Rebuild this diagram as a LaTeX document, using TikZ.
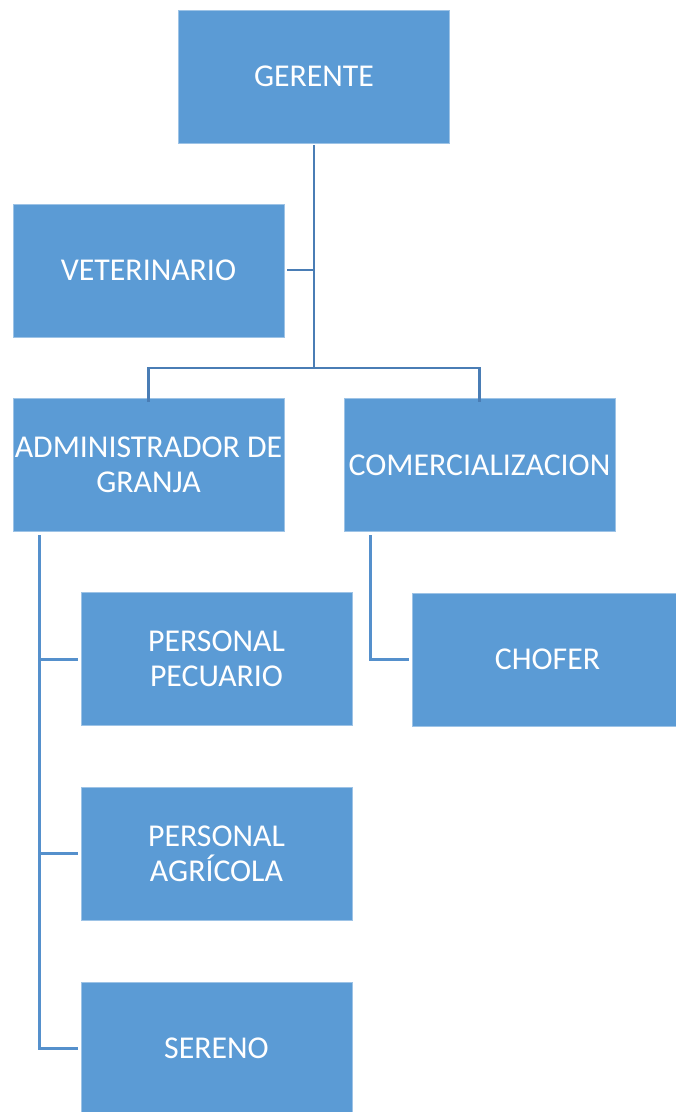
\documentclass[tikz,border=0pt]{standalone}
\usepackage{fontspec}
\setmainfont{Carlito}
\definecolor{boxblue}{HTML}{5B9BD5}
\definecolor{boxedge}{HTML}{9DC3E6}
\definecolor{topline}{HTML}{4A7DB5}
\definecolor{lowline}{HTML}{5590CC}
\tikzset{
  orgbox/.style={draw=boxedge, line width=0.8pt, fill=boxblue, text=white,
    minimum width=271pt, minimum height=133pt, inner sep=0pt, align=center,
    font=\fontsize{31.8}{35}\selectfont},
  conn/.style={draw=topline, line width=2.8pt},
  lconn/.style={draw=lowline, line width=3pt}
}
\begin{document}
\begin{tikzpicture}[x=1pt,y=-1pt]
\useasboundingbox (0,0) rectangle (676,1112);
\clip (0,0) rectangle (676,1112);
\node[orgbox] (ger) at (314,76.5) {GERENTE};
\node[orgbox] (vet) at (148.5,270.5) {VETERINARIO};
\node[orgbox] (adm) at (148.5,465) {ADMINISTRADOR DE\\GRANJA};
\node[orgbox] (com) at (479.5,465) {COMERCIALIZACION};
\node[orgbox] (pec) at (216.5,659) {PERSONAL\\PECUARIO};
\node[orgbox] (cho) at (547.5,659.5) {CHOFER};
\node[orgbox] (agr) at (216.5,853.5) {PERSONAL\\AGRÍCOLA};
\node[orgbox] (ser) at (216.5,1048.5) {SERENO};
\coordinate (j1) at (314,368);
\coordinate (jv) at (314,270);
\draw[conn] ([yshift=-2pt]ger.south) -- (j1);
\draw[conn] ([xshift=3pt]vet.east |- jv) -- (jv);
\draw[conn] ([yshift=-4pt]adm.north) |- (j1) -| ([yshift=-4pt]com.north);
\coordinate (al) at (39,535);
\draw[lconn] (al) |- ([xshift=-3pt]ser.west);
\draw[lconn] (al |- pec.west) -- ([xshift=-3pt]pec.west);
\draw[lconn] (al |- agr.west) -- ([xshift=-3pt]agr.west);
\draw[lconn] (370,535) |- ([xshift=-3pt]cho.west);
\end{tikzpicture}
\end{document}
